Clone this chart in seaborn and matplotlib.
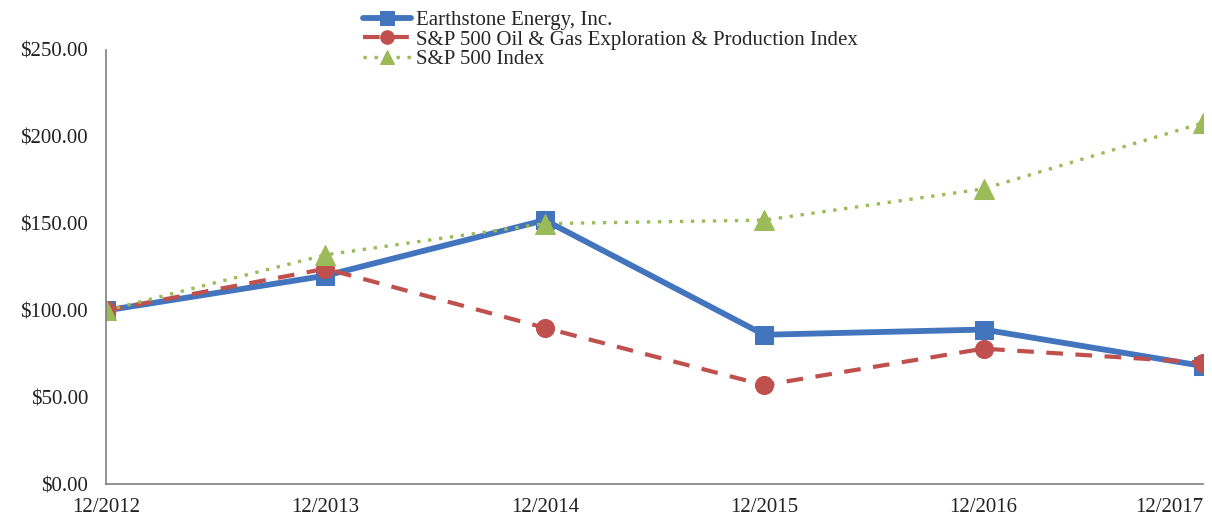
import pandas as pd
import matplotlib.pyplot as plt
import seaborn as sns

# Data
years = ["12/2012", "12/2013", "12/2014", "12/2015", "12/2016", "12/2017"]
earthstone = [100, 120, 152, 86, 89, 68]
oil_gas = [100, 124, 90, 57, 78, 70]
sp500 = [100, 132, 150, 152, 170, 208]

series_names = [
    "Earthstone Energy, Inc.",
    "S&P 500 Oil & Gas Exploration & Production Index",
    "S&P 500 Index",
]

df = pd.DataFrame({
    "year": years * 3,
    "value": earthstone + oil_gas + sp500,
    "series": [n for n in series_names for _ in years],
})

sns.set_style("white")
plt.rcParams["font.family"] = ["Liberation Serif", "DejaVu Serif"]

fig = plt.figure(figsize=(12.12, 5.2), dpi=100)
ax = fig.add_axes([0.0875, 0.069, 0.905, 0.835])

styles = {
    series_names[0]: dict(color="#4275BD", ls="-", lw=4.2, marker="s", ms=13),
    series_names[1]: dict(color="#C0504D", ls=(0, (4, 3)), lw=3.0, marker="o", ms=13),
    series_names[2]: dict(color="#9BBB59", ls=(0, (1, 2.3)), lw=2.4, marker="^", ms=14),
}

for name in series_names:
    st = styles[name]
    sub = df[df["series"] == name]
    sns.lineplot(data=sub, x="year", y="value", ax=ax, label=name,
                 color=st["color"], linestyle=st["ls"], linewidth=st["lw"],
                 marker=st["marker"], markersize=st["ms"],
                 markeredgecolor=st["color"], sort=False)

ax.set_xlim(0, len(years) - 1)
ax.set_ylim(0, 250)
ax.set_yticks([0, 50, 100, 150, 200, 250])
ax.set_yticklabels([f"${v:.2f}" for v in [0, 50, 100, 150, 200, 250]])
ax.set_xlabel("")
ax.set_ylabel("")
ax.tick_params(axis="both", labelsize=15, length=0, colors="#222222")
ax.tick_params(axis="y", pad=13)
ax.tick_params(axis="x", pad=10)
ax.get_xticklabels()[-1].set_horizontalalignment("right")

for side in ["top", "right"]:
    ax.spines[side].set_visible(False)
for side in ["left", "bottom"]:
    ax.spines[side].set_color("#7f7f7f")
    ax.spines[side].set_linewidth(1.2)

leg = ax.legend(loc="upper left", bbox_to_anchor=(0.225, 1.115), frameon=False,
                fontsize=15, handlelength=2.3, handletextpad=0.25,
                labelspacing=0.0, borderpad=0, markerscale=0.75)

plt.savefig("out.png", dpi=100)
plt.close()
